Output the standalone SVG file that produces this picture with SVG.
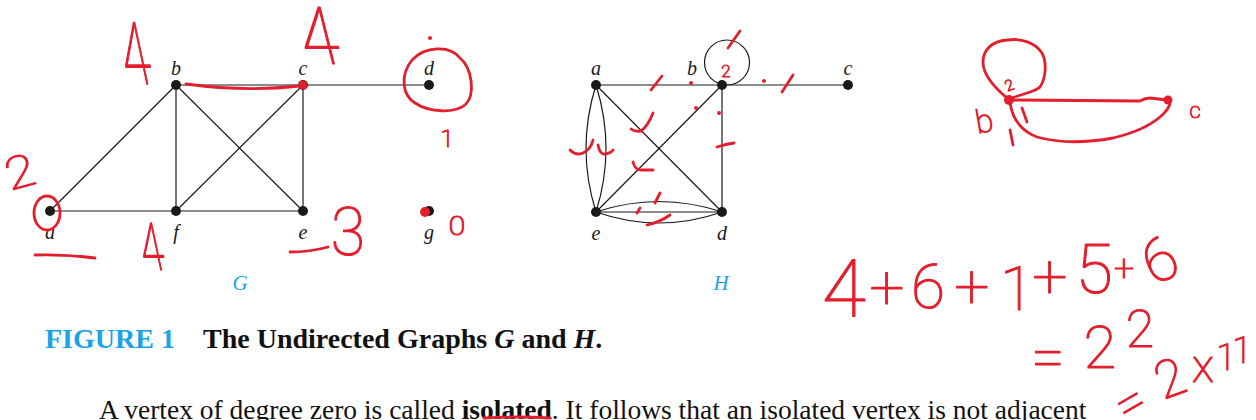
<svg xmlns="http://www.w3.org/2000/svg" width="1256" height="420" viewBox="0 0 1256 420">
<style>
.edge{stroke:#1a1a1a;stroke-width:1.2;fill:none}
.node{fill:#1a1a1a}
.lbl{font-family:"Liberation Serif",serif;font-style:italic;font-size:20px;fill:#1a1a1a;text-anchor:middle}
.glbl{font-family:"Liberation Serif",serif;font-style:italic;font-size:21px;fill:#1aa3e6;text-anchor:middle}
.ink{fill:none;stroke:#e31e2d;stroke-width:2.8;stroke-linecap:round;stroke-linejoin:round}
.dot{fill:#e31e2d}
.hw{font-family:Roboto,"DejaVu Sans",sans-serif;font-weight:100;fill:#e31e2d;stroke:#e31e2d;stroke-width:1.2;stroke-linejoin:round;text-anchor:middle}
.cap{font-family:"Liberation Serif",serif;font-weight:bold;font-size:28px;fill:#111}
.body{font-family:"Liberation Serif",serif;font-size:27.5px;fill:#111}
</style>
<rect width="1256" height="420" fill="#fff"/>

<!-- Graph G -->
<g id="G-edges">
<line class="edge" x1="50" y1="211" x2="176" y2="85"/>
<line class="edge" x1="50" y1="211" x2="303" y2="211"/>
<line class="edge" x1="176" y1="85" x2="429" y2="85"/>
<line class="edge" x1="176" y1="85" x2="176" y2="211"/>
<line class="edge" x1="176" y1="85" x2="303" y2="211"/>
<line class="edge" x1="303" y1="85" x2="176" y2="211"/>
<line class="edge" x1="303" y1="85" x2="303" y2="211"/>
</g>
<g id="G-a"><circle class="node" cx="50" cy="211" r="5"/><text class="lbl" x="50" y="239">a</text></g>
<g id="G-b"><circle class="node" cx="176" cy="85" r="5"/><text class="lbl" x="176" y="75">b</text></g>
<g id="G-c"><circle class="node" cx="303" cy="85" r="5"/><text class="lbl" x="303" y="75">c</text></g>
<g id="G-d"><circle class="node" cx="429" cy="85" r="5"/><text class="lbl" x="429" y="75">d</text></g>
<g id="G-e"><circle class="node" cx="303" cy="211" r="5"/><text class="lbl" x="303" y="239">e</text></g>
<g id="G-f"><circle class="node" cx="176" cy="211" r="5"/><text class="lbl" x="176" y="239">f</text></g>
<g id="G-g"><circle class="node" cx="429" cy="211" r="5"/><text class="lbl" x="429" y="239">g</text></g>
<text class="glbl" x="240" y="290">G</text>

<!-- Graph H -->
<g id="H-edges">
<line class="edge" x1="596" y1="85" x2="848" y2="85"/>
<line class="edge" x1="722" y1="85" x2="722" y2="212"/>
<line class="edge" x1="722" y1="85" x2="596" y2="212"/>
<line class="edge" x1="596" y1="85" x2="722" y2="212"/>
<path class="edge" d="M596,85 Q576,148.5 596,212"/>
<path class="edge" d="M596,85 Q616,148.5 596,212"/>
<line class="edge" x1="596" y1="212" x2="722" y2="212"/>
<path class="edge" d="M596,212 Q659,191 722,212"/>
<path class="edge" d="M596,212 Q659,234 722,212"/>
<circle class="edge" cx="727" cy="62.5" r="22.5"/>
</g>
<g id="H-a"><circle class="node" cx="596" cy="85" r="5"/><text class="lbl" x="596" y="75">a</text></g>
<g id="H-b"><circle class="node" cx="722" cy="85" r="5"/><text class="lbl" x="692" y="75">b</text></g>
<g id="H-c"><circle class="node" cx="848" cy="85" r="5"/><text class="lbl" x="848" y="75">c</text></g>
<g id="H-d"><circle class="node" cx="722" cy="212" r="5"/><text class="lbl" x="722" y="240">d</text></g>
<g id="H-e"><circle class="node" cx="596" cy="212" r="5"/><text class="lbl" x="596" y="240">e</text></g>
<text class="glbl" x="721" y="290">H</text>

<!-- Caption and body text -->
<text x="45" y="348" class="cap" style="fill:#1aa3e6">FIGURE 1</text>
<text x="203" y="348" class="cap">The Undirected Graphs <tspan font-style="italic">G</tspan> and <tspan font-style="italic">H</tspan>.</text>
<text x="99" y="419" class="body">A vertex of degree zero is called <tspan font-weight="bold">isolated</tspan>. It follows that an isolated vertex is not adjacent</text>

<!-- Handwritten annotations on G -->
<g id="ink-G">
<path class="ink" d="M186,84 Q245,92 300,86"/>
<circle class="dot" cx="303" cy="85" r="4.5"/>
<path class="ink" d="M412,60 C425,46 450,45 460,58 C472,68 476,95 465,105 C455,113 430,113 415,103 C402,95 400,75 412,60"/>
<circle class="dot" cx="430" cy="38" r="2"/>
<ellipse class="ink" cx="47" cy="213" rx="13" ry="17"/>
<path class="ink" d="M35,255 Q65,254 95,258"/>
<path class="ink" d="M290,252 Q310,252 328,247"/>
<circle class="dot" cx="425" cy="212" r="5"/>
<text class="hw" font-size="72" transform="translate(141,84) skewX(12) scale(0.7,1.2)">4</text>
<text class="hw" font-size="80" transform="translate(325,64) skewX(14) scale(0.85,1)">4</text>
<text class="hw" font-size="24" transform="translate(447,147)">1</text>
<text class="hw" font-size="45" transform="translate(24,187) rotate(-15) scale(1.2,1)">2</text>
<text class="hw" font-size="55" transform="translate(156,270) skewX(12) scale(0.75,1.2)">4</text>
<text class="hw" font-size="66" transform="translate(348,255) scale(0.95,1)">3</text>
<text class="hw" font-size="25" transform="translate(457,235) scale(1.2,1)">0</text>
</g>

<!-- Handwritten annotations on H -->
<g id="ink-H">
<path class="ink" d="M651,90 L662,76"/>
<circle class="dot" cx="691" cy="83" r="2"/>
<path class="ink" d="M728,48 L740,31"/>
<circle class="dot" cx="764" cy="81" r="2"/>
<path class="ink" d="M782,92 L793,75"/>
<circle class="dot" cx="696" cy="108" r="2"/>
<circle class="dot" cx="719" cy="113" r="2"/>
<path class="ink" d="M717,147 Q726,144 734,143"/>
<path class="ink" d="M653,113 Q648,126 641,131 Q635,132 631,129"/>
<path class="ink" d="M633,162 Q635,170 641,170 L653,170"/>
<path class="ink" d="M570,150 Q576,156 583,153 Q591,149 593,140"/>
<path class="ink" d="M598,145 Q600,155 605,154 Q611,153 613,150"/>
<path class="ink" d="M655,203 L660,193"/>
<path class="ink" d="M637,213 L640,208"/>
<path class="ink" d="M647,225 Q660,222 670,215"/>
<text class="hw" font-size="17" transform="translate(726,77)">2</text>
</g>

<!-- Handwritten sketch top right -->
<g id="ink-sketch">
<path class="ink" d="M1007,98 C995,88 983,75 983,62 C983,50 992,41 1007,40 C1020,38 1035,42 1042,53 C1047,62 1046,78 1040,87 C1035,92 1025,93 1012,98"/>
<path class="ink" d="M1013,100 L1140,101 Q1145,98 1150,98 L1167,100"/>
<path class="ink" d="M1010,103 C1012,115 1018,130 1037,137 C1055,142 1080,144 1113,138 C1130,134 1147,128 1160,117 C1167,111 1170,106 1170,102"/>
<circle class="dot" cx="1009" cy="100" r="5"/>
<circle class="dot" cx="1168" cy="100" r="4.5"/>
<path class="ink" d="M1022,108 L1027,122"/>
<path class="ink" d="M1010,130 L1013,145"/>
<text class="hw" font-size="15" transform="translate(1011,90) rotate(-20)">2</text>
<text class="hw" font-size="32" transform="translate(986,132) rotate(-10)">b</text>
<text class="hw" font-size="22" transform="translate(1195,118)">c</text>
</g>

<!-- Handwritten sum -->
<g id="ink-sum">
<text class="hw" font-size="62"><tspan x="844" y="316" font-size="80">4</tspan><tspan x="887" y="308">+</tspan><tspan x="928" y="308">6</tspan><tspan x="972" y="307">+</tspan><tspan x="1017" y="310">1</tspan><tspan x="1050" y="297">+</tspan><tspan x="1094" y="293" font-size="68">5</tspan><tspan x="1124" y="281" font-size="36">+</tspan><tspan x="1170" y="286" font-size="60" rotate="-25">6</tspan></text>
<text class="hw" font-size="60"><tspan x="1048" y="378">=</tspan><tspan x="1100" y="368">2</tspan><tspan x="1140" y="347" font-size="52">2</tspan></text>
<text class="hw" font-size="52"><tspan x="1141" y="425" rotate="-30">=</tspan><tspan x="1177" y="400" rotate="-20">2</tspan><tspan x="1203" y="382" font-size="46">x</tspan><tspan x="1226" y="370" font-size="36">1</tspan><tspan x="1242" y="363" font-size="36">1</tspan></text>
<path class="ink" d="M484,418 Q518,416 550,418"/>
</g>
</svg>
